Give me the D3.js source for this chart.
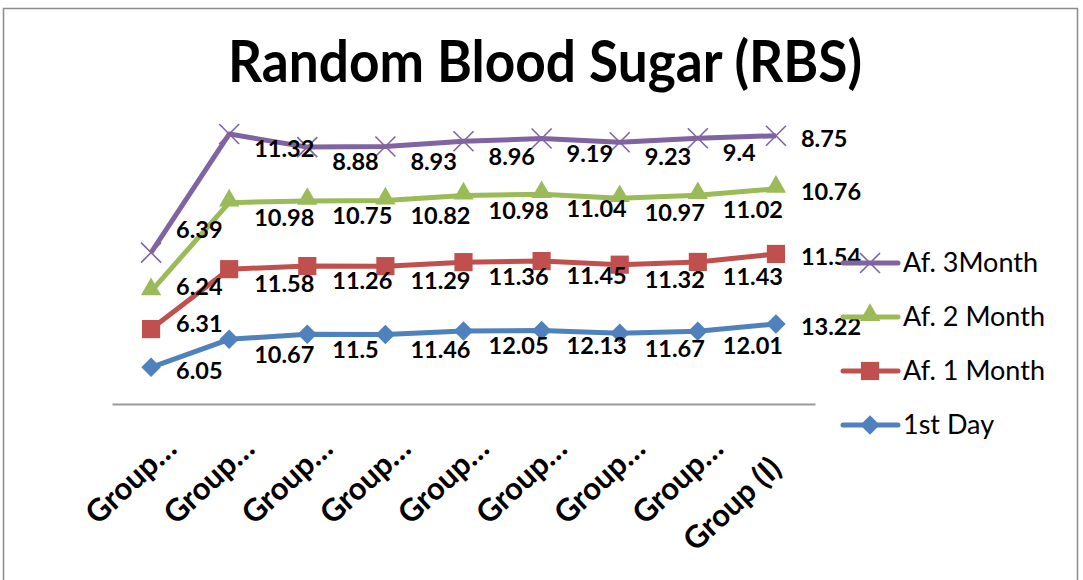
<!DOCTYPE html>
<html>
<head>
<meta charset="utf-8">
<script src="https://cdn.jsdelivr.net/npm/d3@7"></script>
<style>
  body { margin: 0; background: #fff; }
  text { font-family: Lato, "Open Sans", sans-serif; }
</style>
</head>
<body>
<svg id="chart" width="1083" height="580"></svg>
<script>
const svg = d3.select('#chart');
const width = +svg.attr('width');
const height = +svg.attr('height');

// data (stacked line chart)
const categories = ['Group…', 'Group…', 'Group…', 'Group…', 'Group…', 'Group…', 'Group…', 'Group…', 'Group (I)'];
const firstDay = [6.05, 10.67, 11.5, 11.46, 12.05, 12.13, 11.67, 12.01, 13.22];
const month1 = [6.31, 11.58, 11.26, 11.29, 11.36, 11.45, 11.32, 11.43, 11.54];
const month2 = [6.24, 10.98, 10.75, 10.82, 10.98, 11.04, 10.97, 11.02, 10.76];
const month3 = [6.39, 11.32, 8.88, 8.93, 8.96, 9.19, 9.23, 9.4, 8.75];
const seriesNames = ['1st Day', 'Af. 1 Month', 'Af. 2 Month', 'Af. 3Month'];
const seriesValues = [firstDay, month1, month2, month3];
const colors = ['#4F81BD', '#C0504D', '#9BBB59', '#8064A2'];
const markers = ['diamond', 'square', 'triangle', 'cross'];

// outer chart border
svg.append('rect')
  .attr('x', 3.5).attr('y', 8.5)
  .attr('width', 1074).attr('height', 600)
  .attr('fill', 'none').attr('stroke', '#8c8c8c').attr('stroke-width', 1.5);

svg.append('text')
  .attr('x', 545).attr('y', 82)
  .attr('text-anchor', 'middle')
  .attr('font-size', '58px').attr('font-weight', 'bold')
  .attr('textLength', 634).attr('lengthAdjust', 'spacingAndGlyphs')
  .text('Random Blood Sugar (RBS)');

// table for d3.stack
const table = categories.map((c, i) => {
  const row = { i };
  seriesNames.forEach((s, k) => { row[s] = seriesValues[k][i]; });
  return row;
});
const stacked = d3.stack().keys(seriesNames)(table);

const xScale = d3.scalePoint()
  .domain(d3.range(categories.length))
  .range([112, 815])
  .padding(0.5);

const yScale = d3.scaleLinear()
  .domain([0, 50])
  .range([404, 101]);

// category axis
const xAxis = svg.append('g')
  .attr('transform', 'translate(0,404)')
  .call(d3.axisBottom(xScale).tickSize(0).tickFormat(''));
xAxis.select('.domain').attr('stroke', '#999').attr('stroke-width', 2);

svg.append('g').selectAll('text').data(categories)
  .enter().append('text')
  .attr('transform', (d, i) => {
    const shift = d.endsWith('…') ? 20 : 0;
    return `translate(${xScale(i) + shift},${463 - shift}) rotate(-43)`;
  })
  .attr('text-anchor', 'end')
  .attr('dy', '0.35em')
  .attr('font-size', '31px').attr('font-weight', 'bold')
  .text(d => d);

const markerPath = (type, g, color) => {
  if (type === 'diamond') {
    g.append('path').attr('d', d3.symbol(d3.symbolSquare, 190)())
      .attr('transform', 'rotate(45)').attr('fill', color);
  } else if (type === 'square') {
    g.append('path').attr('d', d3.symbol(d3.symbolSquare, 330)()).attr('fill', color);
  } else if (type === 'triangle') {
    g.append('path').attr('d', d3.symbol(d3.symbolTriangle, 180)())
      .attr('transform', 'translate(0,-2)').attr('fill', color);
  } else {
    g.append('path').attr('d', 'M-10,-10L10,10M10,-10L-10,10')
      .attr('stroke', color).attr('stroke-width', 1.6).attr('fill', 'none');
  }
};

const line = d3.line()
  .x(d => xScale(d.data.i))
  .y(d => yScale(d[1]));

stacked.forEach((layer, k) => {
  const g = svg.append('g');
  g.append('path').datum(layer)
    .attr('d', line)
    .attr('fill', 'none')
    .attr('stroke', colors[k])
    .attr('stroke-width', 5)
    .attr('stroke-linejoin', 'round');

  layer.forEach(d => {
    const m = g.append('g')
      .attr('transform', `translate(${xScale(d.data.i)},${yScale(d[1])})`);
    markerPath(markers[k], m, colors[k]);
  });

  const last = layer.length - 1;
  g.selectAll('text').data(layer)
    .enter().append('text')
    .attr('x', d => xScale(d.data.i) + 25)
    .attr('y', (d, i) => {
      let off = 15;
      if (i === last) off = 3;
      else if (i === 0) off = k === 3 ? -23 : (k === 0 ? 3 : -5);
      return yScale(d[1]) + off;
    })
    .attr('dy', '0.35em')
    .attr('font-size', '23.5px').attr('font-weight', 'bold')
    .attr('fill', '#000')
    .text(d => d.data[seriesNames[k]]);
});

// legend, top entry is the last series
const legend = svg.append('g');
seriesNames.slice().reverse().forEach((s, j) => {
  const k = seriesNames.length - 1 - j;
  const y = 263 + j * 54;
  const g = legend.append('g');
  g.append('line')
    .attr('x1', 843).attr('x2', 898).attr('y1', y).attr('y2', y)
    .attr('stroke', colors[k]).attr('stroke-width', 5).attr('stroke-linecap', 'round');
  markerPath(markers[k], g.append('g').attr('transform', `translate(870,${y})`), colors[k]);
  g.append('text')
    .attr('x', 903).attr('y', y).attr('dy', '0.35em')
    .attr('font-size', '27px')
    .text(s);
});
</script>
</body>
</html>
